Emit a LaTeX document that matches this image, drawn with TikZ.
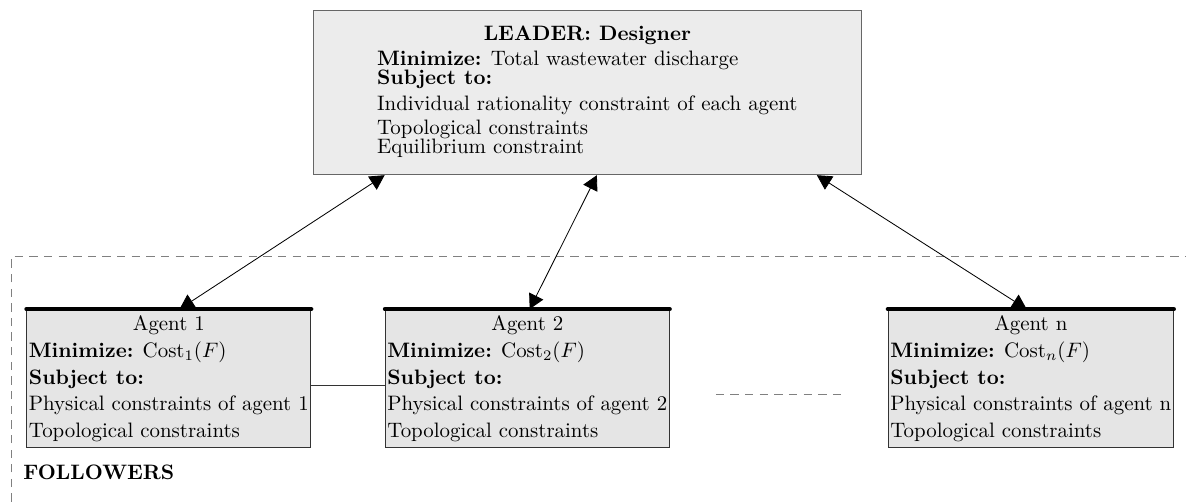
\documentclass[tikz,border=0pt]{standalone}
\usepackage{amsmath, amssymb}
\usetikzlibrary{arrows.meta}
\renewcommand{\arraystretch}{1.07}

\begin{document}
\begin{tikzpicture}[
  leaderbox/.style={draw=gray!80!black, fill=gray!15, minimum width=9.23cm, minimum height=2.76cm, inner sep=0pt},
  agentbox/.style={draw=black!80, fill=gray!20, inner sep=1pt},
  link/.style={{Triangle[length=7pt,width=7.5pt]}-{Triangle[length=7pt,width=7.5pt]}},
  topbar/.style={line width=2pt, line cap=round},
  frame/.style={gray, dash pattern=on 4pt off 3pt}
]
\useasboundingbox (0,0) rectangle (19.95,8.44);

% followers frame
\draw[frame] (0.185,0) -- (0.185,4.12) -- (19.95,4.12);
\node[anchor=west] (fol) at (0.27,0.49) {\textbf{FOLLOWERS}};

% leader
\node[leaderbox] (leader) at (9.88,6.88) {\begin{tabular}{@{}l@{}}
\multicolumn{1}{@{}c@{}}{\textbf{LEADER: Designer}}\\[-1pt]
\textbf{Minimize:} Total wastewater discharge\\[-3.5pt]
\textbf{Subject to:}\\[-0.5pt]
Individual rationality constraint of each agent\\[-1.5pt]
Topological constraints\\[-3.5pt]
Equilibrium constraint\\[1pt]
\end{tabular}};

% followers
\node[agentbox] (a1) at (2.84,2.07) {\begin{tabular}{@{}l@{}}
\multicolumn{1}{@{}c@{}}{Agent 1}\\
\textbf{Minimize:} $\mathrm{Cost}_1(F)$\\
\textbf{Subject to:}\\
Physical constraints of agent 1\\
Topological constraints
\end{tabular}};
\node[agentbox] (a2) at (8.87,2.07) {\begin{tabular}{@{}l@{}}
\multicolumn{1}{@{}c@{}}{Agent 2}\\
\textbf{Minimize:} $\mathrm{Cost}_2(F)$\\
\textbf{Subject to:}\\
Physical constraints of agent 2\\
Topological constraints
\end{tabular}};
\node[agentbox] (an) at (17.34,2.07) {\begin{tabular}{@{}l@{}}
\multicolumn{1}{@{}c@{}}{Agent n}\\
\textbf{Minimize:} $\mathrm{Cost}_n(F)$\\
\textbf{Subject to:}\\
Physical constraints of agent n\\
Topological constraints
\end{tabular}};

\draw[black!80] ([yshift=-0.12cm]a1.east) -- ([yshift=-0.12cm]a2.west);
\draw[frame] (12.04,1.8) -- (14.21,1.8);

\draw[link] ([xshift=-3.41cm]leader.south) -- ([xshift=0.18cm]a1.north);
\draw[link] ([xshift=0.16cm]leader.south) -- ([xshift=0.04cm]a2.north);
\draw[link] ([xshift=3.86cm]leader.south) -- ([xshift=-0.07cm]an.north);

\draw[topbar] (a1.north west) -- (a1.north east);
\draw[topbar] (a2.north west) -- (a2.north east);
\draw[topbar] (an.north west) -- (an.north east);

\end{tikzpicture}
\end{document}
